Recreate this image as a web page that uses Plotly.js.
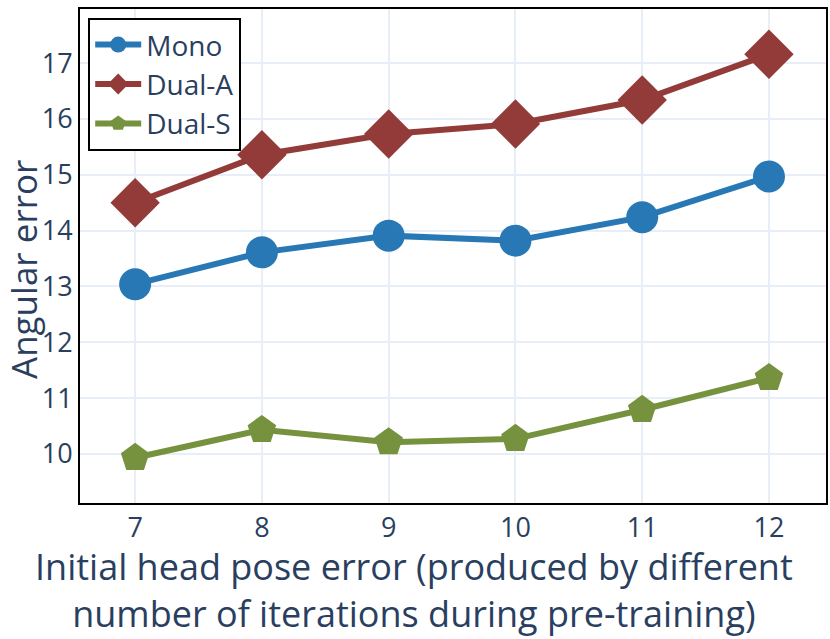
<!DOCTYPE html>
<html><head><meta charset="utf-8">
<script src="https://cdn.plot.ly/plotly-3.0.1.min.js"></script>
<style>html,body{margin:0;padding:0;background:#fff;}</style>
</head><body>
<div id="chart" style="width:830px;height:639px;"></div>
<script>
const xVals = [7, 8, 9, 10, 11, 12];
const mono = [13.04, 13.61, 13.91, 13.82, 14.24, 14.97];
const dualA = [14.50, 15.36, 15.73, 15.91, 16.34, 17.16];
const dualS = [9.93, 10.43, 10.21, 10.27, 10.79, 11.36];
const seriesNames = ["Mono", "Dual-A", "Dual-S"];
const xTitle = "Initial head pose error (produced by different<br>number of iterations during pre-training)";
const yTitle = "Angular error";

const traces = [
  {x: xVals, y: mono, name: seriesNames[0], mode: "lines+markers",
   line: {color: "#2878b5", width: 6}, marker: {symbol: "circle", size: 32, color: "#2878b5"}},
  {x: xVals, y: dualA, name: seriesNames[1], mode: "lines+markers",
   line: {color: "#933b38", width: 6}, marker: {symbol: "diamond", size: 38, color: "#933b38"}},
  {x: xVals, y: dualS, name: seriesNames[2], mode: "lines+markers",
   line: {color: "#77923f", width: 6}, marker: {symbol: "pentagon", size: 30, color: "#77923f"}}
];

const titleColor = "#2a3f5f";
const layout = {
  width: 830, height: 639,
  margin: {l: 80, r: 4, t: 9, b: 136},
  paper_bgcolor: "#fff", plot_bgcolor: "#fff",
  font: {family: "Open Sans, Noto Sans, sans-serif", color: titleColor, size: 28},
  showlegend: true,
  legend: {x: 0.011, y: 0.982, xanchor: "left", yanchor: "top",
    bordercolor: "#000", borderwidth: 2, bgcolor: "#fff", itemwidth: 46,
    font: {size: 28, color: titleColor}},
  xaxis: {
    range: [6.565, 12.45], tickvals: xVals, ticktext: xVals.map(String),
    showgrid: true, gridcolor: "#e8eef7", gridwidth: 1.5, zeroline: false,
    showline: true, linecolor: "#000", linewidth: 2, mirror: true,
    ticks: "", tickfont: {size: 27}
  },
  yaxis: {
    range: [9.12, 17.97], tickvals: [10, 11, 12, 13, 14, 15, 16, 17],
    showgrid: true, gridcolor: "#e8eef7", gridwidth: 1.5, zeroline: false,
    showline: true, linecolor: "#000", linewidth: 2, mirror: true,
    ticks: "", tickfont: {size: 27}
  },
  annotations: [
    {text: xTitle, xref: "paper", yref: "paper", x: 0.4477, y: (503 - 590) / 494,
     xanchor: "center", yanchor: "middle", showarrow: false, borderpad: 0, font: {size: 36, color: titleColor}},
    {text: yTitle, xref: "paper", yref: "paper", x: (24 - 80) / 746, y: (503 - 270) / 494,
     xanchor: "center", yanchor: "middle", textangle: -90, showarrow: false, borderpad: 0, font: {size: 35, color: titleColor}}
  ]
};

Plotly.newPlot("chart", traces, layout, {displayModeBar: false});
</script>
</body></html>
